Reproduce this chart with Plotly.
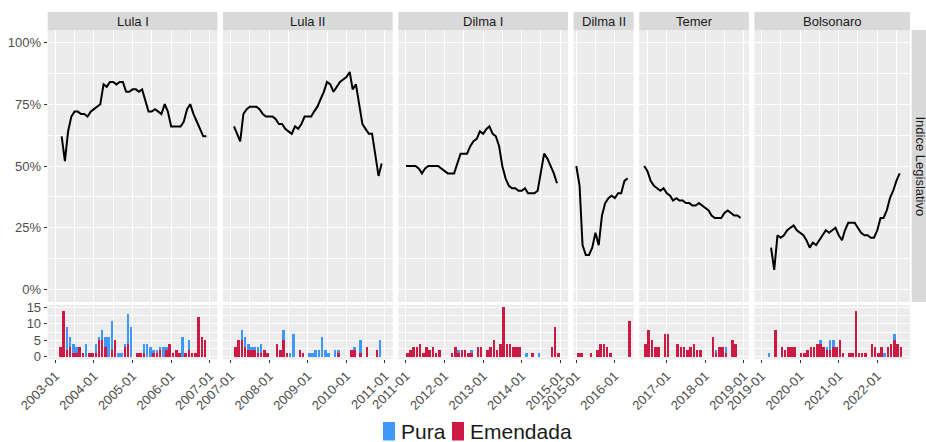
import pandas as pd
import plotly.graph_objects as go

# ---- data -----------------------------------------------------------------
periods = ["Lula I", "Lula II", "Dilma I", "Dilma II", "Temer", "Bolsonaro"]
first_month = ["2003-01", "2007-01", "2011-01", "2015-01", "2016-06", "2019-01"]
last_month = ["2006-12", "2010-12", "2014-12", "2016-05", "2018-12", "2022-08"]

# Indice Legislativo (%), monthly, starting at index_start
index_start = ["2003-03", "2007-02", "2011-01", "2015-01", "2016-06", "2019-04"]
idx_lula1 = [62, 52, 64, 70, 72, 72, 71, 71, 70, 72, 73, 74, 75, 83, 82, 84, 84, 83, 84, 84,
             80, 80, 81, 81, 80, 81, 77, 72, 72, 73, 72, 71, 75, 72, 66, 66, 66, 66, 68, 73,
             75, 71, 68, 65, 62, 62]
idx_lula2 = [66, 63, 60, 71, 73, 74, 74, 74, 73, 71, 70, 70, 70, 69, 67, 67, 65, 64, 63, 66,
             65, 67, 70, 70, 70, 72, 74, 77, 80, 84, 83, 80, 82, 84, 85, 86, 88, 81, 83, 75,
             67, 65, 63, 63, 54, 46, 51]
idx_dilma1 = [50, 50, 50, 50, 49, 47, 49, 50, 50, 50, 50, 49, 48, 47, 47, 47, 51, 55, 55, 55,
              58, 60, 61, 64, 63, 65, 66, 63, 62, 58, 50, 45, 42, 41, 41, 40, 40, 41, 39, 39,
              39, 40, 48, 55, 53, 50, 47, 43]
idx_dilma2 = [50, 42, 18, 14, 14, 17, 23, 18, 30, 35, 37, 38, 37, 39, 39, 44, 45]
idx_temer = [50, 48, 44, 42, 41, 40, 41, 39, 38, 36, 37, 36, 36, 35, 35, 34, 34, 35, 34, 33,
             32, 30, 29, 29, 29, 31, 32, 31, 30, 30, 29]
idx_bolsonaro = [17, 8, 22, 21, 22, 24, 25, 26, 24, 23, 22, 20, 17, 19, 18, 20, 22, 24, 23, 24,
                 25, 22, 20, 24, 27, 27, 27, 25, 23, 22, 22, 21, 21, 24, 29, 29, 32, 37, 40, 44,
                 47]

# monthly counts of MPs converted without changes (Pura) and with changes (Emendada)
pura_lula1 = [0, 0, 0, 7, 3, 3, 2, 0, 0, 4, 0, 0, 3, 1, 3, 3, 6, 9, 0, 1, 1, 1, 9, 9,
              0, 0, 0, 3, 4, 3, 1, 1, 1, 3, 1, 0, 0, 0, 0, 6, 0, 3, 0, 0, 0, 0, 0, 0]
emend_lula1 = [0, 3, 14, 2, 3, 1, 1, 3, 1, 0, 1, 1, 1, 5, 5, 3, 0, 2, 5, 0, 0, 3, 4, 0,
               0, 1, 1, 1, 0, 0, 1, 1, 2, 0, 2, 4, 1, 2, 1, 0, 1, 2, 1, 1, 12, 6, 5, 0]
pura_lula2 = [0, 0, 0, 3, 3, 2, 1, 1, 2, 3, 0, 0, 0, 0, 0, 0, 3, 0, 1, 7, 0, 0, 0, 0,
              1, 1, 2, 2, 6, 2, 1, 0, 2, 1, 0, 0, 0, 0, 1, 0, 4, 0, 0, 0, 0, 0, 5, 0]
emend_lula2 = [0, 3, 5, 5, 3, 2, 2, 2, 1, 1, 2, 1, 0, 0, 4, 2, 5, 1, 0, 0, 0, 2, 1, 0,
               0, 0, 0, 0, 0, 0, 0, 0, 0, 1, 0, 0, 0, 2, 2, 0, 1, 0, 3, 0, 0, 2, 0, 0]
pura_dilma1 = [0, 0, 0, 0, 0, 0, 0, 0, 0, 0, 0, 0, 0, 0, 0, 0, 1, 0, 0, 0, 1, 0, 0, 0,
               0, 0, 0, 0, 0, 0, 0, 0, 0, 0, 0, 0, 0, 1, 0, 0, 0, 1, 0, 0, 0, 0, 0, 0]
emend_dilma1 = [1, 2, 3, 3, 4, 1, 3, 2, 3, 1, 2, 0, 0, 0, 1, 3, 1, 2, 2, 1, 1, 0, 3, 3,
                0, 2, 3, 5, 2, 4, 15, 4, 4, 3, 3, 3, 0, 0, 0, 1, 0, 0, 0, 0, 0, 3, 9, 1]
pura_dilma2 = [0, 0, 0, 0, 0, 0, 0, 0, 0, 0, 0, 0, 0, 0, 0, 0, 0]
emend_dilma2 = [1, 1, 0, 0, 1, 0, 2, 4, 4, 3, 1, 0, 0, 0, 0, 0, 11]
pura_temer = [0, 0, 0, 0, 0, 0, 0, 0, 0, 0, 0, 0, 0, 0, 0, 0, 0, 0, 0, 0, 0, 0, 1, 0,
              0, 2, 0, 0, 0, 0, 0]
emend_temer = [4, 8, 5, 3, 3, 0, 7, 7, 0, 0, 4, 3, 3, 2, 3, 4, 2, 2, 0, 0, 0, 6, 1, 3,
               3, 1, 0, 5, 4, 0, 0]
pura_bolsonaro = [0, 0, 1, 0, 0, 0, 0, 0, 0, 0, 0, 0, 0, 0, 0, 0, 0, 0, 1, 0, 1, 3, 2, 0,
                  0, 0, 0, 0, 0, 0, 0, 0, 0, 0, 0, 0, 0, 0, 1, 0, 0, 2, 0, 0]
emend_bolsonaro = [0, 0, 0, 0, 8, 0, 3, 2, 3, 3, 3, 0, 1, 1, 2, 3, 3, 4, 4, 3, 2, 2, 3, 3,
                   5, 1, 0, 1, 1, 14, 1, 1, 1, 0, 4, 3, 1, 3, 0, 3, 4, 5, 4, 3]

index_series = [idx_lula1, idx_lula2, idx_dilma1, idx_dilma2, idx_temer, idx_bolsonaro]
pura_series = [pura_lula1, pura_lula2, pura_dilma1, pura_dilma2, pura_temer, pura_bolsonaro]
emend_series = [emend_lula1, emend_lula2, emend_dilma1, emend_dilma2, emend_temer, emend_bolsonaro]

# ---- styling --------------------------------------------------------------
W, H = 926, 442
BLUE = "#3F97F7"
RED = "#CB1B45"
PANEL_BG = "#ECECEC"
STRIP_BG = "#D9D9D9"
TEXT = "#4D4D4D"
FONT = "Liberation Sans, Arial, sans-serif"

LEFT, RIGHT, GAP = 47.7, 910.0, 5.6
TOP_ROW = (30.0, 302.0)      # pixel rows (top, bottom)
BOT_ROW = (305.0, 359.2)
STRIP = (12.0, 30.0)


def fx(px):
    return px / W


def fy(py):
    return 1 - py / H


# panel x-ranges: months covered plus 5% padding on each side; widths follow the ranges
ranges, spans = [], []
for s, e in zip(first_month, last_month):
    t0 = pd.Timestamp(s + "-01")
    t1 = pd.Timestamp(e + "-01") + pd.offsets.MonthBegin(1)
    pad = (t1 - t0) * 0.05
    ranges.append([t0 - pad, t1 + pad])
    spans.append((t1 - t0 + 2 * pad).total_seconds())
avail = RIGHT - LEFT - GAP * (len(periods) - 1)
scale = avail / sum(spans)
domains_px = []
x = LEFT
for sp in spans:
    w = sp * scale
    domains_px.append((x, x + w))
    x += w + GAP

fig = go.Figure()
n = len(periods)
layout = {}
shapes = []
annotations = []
bar_width_ms = 24 * 86400000

for i in range(n):
    kt, kb = i + 1, i + 1 + n
    st = "" if kt == 1 else str(kt)
    sb = str(kb)
    # index line
    dates = pd.date_range(index_start[i] + "-01", periods=len(index_series[i]), freq="MS")
    fig.add_trace(go.Scatter(x=dates, y=index_series[i], mode="lines",
                             line=dict(color="black", width=2),
                             xaxis="x" + st, yaxis="y" + st, showlegend=False,
                             hoverinfo="skip"))
    # monthly bars (Emendada bottom, Pura stacked on top)
    months = pd.date_range(first_month[i] + "-01", periods=len(emend_series[i]), freq="MS")
    mids = months + pd.Timedelta(days=15)
    fig.add_trace(go.Bar(x=mids, y=emend_series[i], width=bar_width_ms, marker_color=RED,
                         marker_line_width=0, name="Emendada", showlegend=False,
                         xaxis="x" + sb, yaxis="y" + sb))
    fig.add_trace(go.Bar(x=mids, y=pura_series[i], width=bar_width_ms, marker_color=BLUE,
                         marker_line_width=0, name="Pura", showlegend=False,
                         xaxis="x" + sb, yaxis="y" + sb))

    d0, d1 = domains_px[i]
    common_x = dict(domain=[fx(d0), fx(d1)], range=ranges[i], type="date",
                    showgrid=True, gridcolor="white", gridwidth=1.1,
                    dtick="M12", tick0="2003-01-01",
                    minor=dict(dtick="M6", tick0="2003-01-01", showgrid=True,
                               gridcolor="white", gridwidth=0.5),
                    zeroline=False, showline=False, fixedrange=True, automargin=False)
    layout["xaxis" + st] = dict(common_x, anchor="y" + st, showticklabels=False, ticks="")
    layout["xaxis" + sb] = dict(common_x, anchor="y" + sb, showticklabels=True,
                                ticks="outside", ticklen=3, tickcolor="#333333", tickwidth=1,
                                tickformat="%Y-%m", tickangle=-45,
                                tickfont=dict(size=13, color=TEXT, family=FONT))
    first = (i == 0)
    layout["yaxis" + st] = dict(domain=[fy(TOP_ROW[1]), fy(TOP_ROW[0])], range=[-5, 105],
                                anchor="x" + st, tickvals=[0, 25, 50, 75, 100],
                                ticktext=["0%", "25%", "50%", "75%", "100%"],
                                showticklabels=first, ticks="outside" if first else "",
                                ticklen=3, tickcolor="#333333",
                                tickfont=dict(size=13, color=TEXT, family=FONT),
                                showgrid=True, gridcolor="white", gridwidth=1.1,
                                minor=dict(tickvals=[12.5, 37.5, 62.5, 87.5], showgrid=True,
                                           gridcolor="white", gridwidth=0.5),
                                zeroline=False, fixedrange=True, automargin=False)
    layout["yaxis" + sb] = dict(domain=[fy(BOT_ROW[1]), fy(BOT_ROW[0])], range=[-0.75, 15.75],
                                anchor="x" + sb, tickvals=[0, 5, 10, 15],
                                showticklabels=first, ticks="outside" if first else "",
                                ticklen=3, tickcolor="#333333",
                                tickfont=dict(size=13, color=TEXT, family=FONT),
                                showgrid=True, gridcolor="white", gridwidth=1.1,
                                minor=dict(tickvals=[2.5, 7.5, 12.5], showgrid=True,
                                           gridcolor="white", gridwidth=0.5),
                                zeroline=False, fixedrange=True, automargin=False)
    # facet strip
    shapes.append(dict(type="rect", xref="paper", yref="paper", x0=fx(d0), x1=fx(d1),
                       y0=fy(STRIP[1]), y1=fy(STRIP[0]), fillcolor=STRIP_BG, line_width=0,
                       layer="below"))
    annotations.append(dict(text=periods[i], xref="paper", yref="paper",
                            x=fx((d0 + d1) / 2), y=fy((STRIP[0] + STRIP[1]) / 2),
                            showarrow=False, xanchor="center", yanchor="middle",
                            font=dict(size=13, color="#1A1A1A", family=FONT)))

# row strip on the right
shapes.append(dict(type="rect", xref="paper", yref="paper", x0=fx(911.7), x1=fx(940),
                   y0=fy(TOP_ROW[1]), y1=fy(TOP_ROW[0]), fillcolor=STRIP_BG, line_width=0,
                   layer="below"))
annotations.append(dict(text="Indice Legislativo", xref="paper", yref="paper",
                        x=fx(920.5), y=fy((TOP_ROW[0] + TOP_ROW[1]) / 2), textangle=90,
                        showarrow=False, xanchor="center", yanchor="middle",
                        font=dict(size=13, color="#1A1A1A", family=FONT)))

# legend
legend_items = [("Pura", BLUE, 383.0), ("Emendada", RED, 452.0)]
for label, color, px in legend_items:
    shapes.append(dict(type="rect", xref="paper", yref="paper", x0=fx(px), x1=fx(px + 12),
                       y0=fy(440.5), y1=fy(422.0), fillcolor=color, line_width=0))
    annotations.append(dict(text=label, xref="paper", yref="paper", x=fx(px + 15.5),
                            y=fy(431.5), showarrow=False, xanchor="left", yanchor="middle",
                            font=dict(size=21, color="#1A1A1A", family=FONT)))

fig.update_layout(**layout)
fig.update_layout(width=W, height=H, margin=dict(l=0, r=0, t=0, b=0),
                  paper_bgcolor="white", plot_bgcolor=PANEL_BG, barmode="stack",
                  bargap=0, showlegend=False, shapes=shapes, annotations=annotations,
                  font=dict(family=FONT, color=TEXT))
fig.write_html("out.html", include_plotlyjs=True, config=dict(displayModeBar=False))
